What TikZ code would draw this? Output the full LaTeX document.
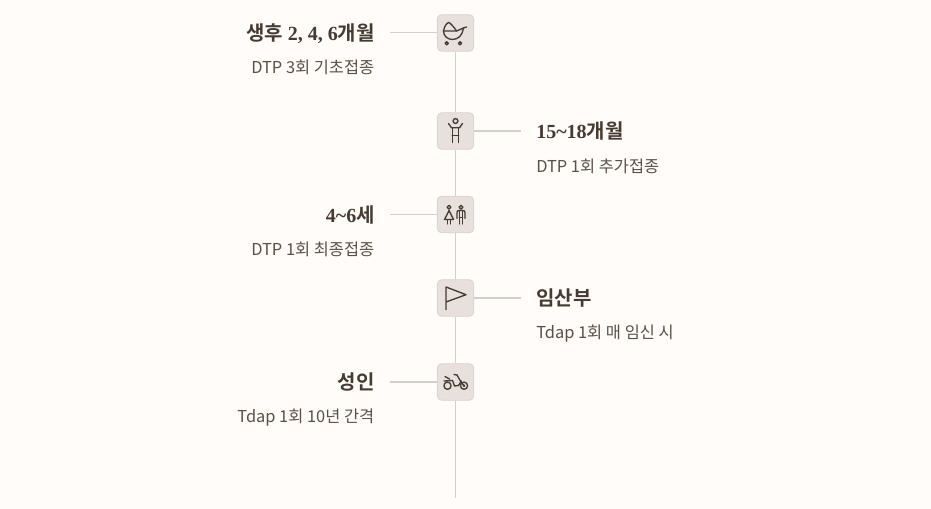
\documentclass[tikz,border=0pt]{standalone}
\usepackage{fontspec}
\usepackage{xcolor}
\usetikzlibrary{positioning}
\setmainfont{Noto Sans CJK KR}
\newfontfamily\titlekr{Noto Sans CJK KR Bold}
\newfontfamily\titlenum{Liberation Serif}[BoldFont={Liberation Serif Bold}]
\newcommand{\num}[1]{{\titlenum\bfseries #1}}
\definecolor{pagebg}{HTML}{FFFCF9}
\definecolor{boxfill}{HTML}{E8E0DD}
\definecolor{boxline}{HTML}{DBD2CD}
\definecolor{linec}{HTML}{D6CEC9}
\definecolor{inkc}{HTML}{463B32}
\definecolor{subc}{HTML}{5A5048}
\tikzset{
  x=0.75pt, y=-0.75pt,
  iconbox/.style={draw=boxline, fill=boxfill, rounded corners=3.5pt, line width=0.6pt,
               minimum size=27.5pt, inner sep=0pt},
  spine/.style={draw=linec, line width=0.75pt},
  branch/.style={draw=linec, line width=1pt},
  title/.style={font=\titlekr\fontsize{15}{18}\selectfont, text=inkc, inner sep=0pt},
  subtitle/.style={font=\fontsize{12.3}{15}\selectfont, text=subc, inner sep=0pt},
  ink/.style={draw=inkc, line width=1pt, line join=round, line cap=round},
  pics/carriage/.style={code={
    \draw[ink] (-12,-2) .. controls (-11,-7) and (-9,-10) .. (-6.5,-10.5) .. controls (-4,-9) and (-1,-5) .. (1,-2);
    \draw[ink] (-12,-2) -- (1,-2) -- (8,-5) -- (11,-6);
    \draw[ink] (-12,-2) .. controls (-12,3) and (-8,6.5) .. (-3,6.5) .. controls (3,6.5) and (7,2) .. (8,-5);
    \draw[ink] (-8.8,10.3) circle (1.6) (4.5,10.3) circle (1.6);
  }},
  pics/walker/.style={code={
    \draw[ink] (0,-10) circle (2.4);
    \draw[ink] (-7,-7.5) -- (-4,-3.2) -- (4,-3.2) -- (7,-7.5);
    \draw[ink] (-3.2,-3.2) -- (-3.2,11.5) (3.2,-3.2) -- (3.2,11.5) (-3.2,4.7) -- (3.2,4.7);
  }},
  pics/children/.style={code={
    \draw[ink] (-6.5,-7.3) circle (1.9) (5.5,-7.3) circle (1.9);
    \draw[ink] (-6.5,-4) -- (-11,5) -- (-2,5) -- cycle;
    \draw[ink] (-8,5) -- (-8,9.5) (-5,5) -- (-5,9.5);
    \draw[ink] (1.5,4) -- (1.5,-2) .. controls (1.5,-3.5) and (2.5,-4) .. (3.5,-4) -- (7.5,-4)
      .. controls (8.5,-4) and (9.5,-3.5) .. (9.5,-2) -- (9.5,4);
    \draw[ink] (3.8,-4) -- (3.8,9.5) (7.2,-4) -- (7.2,9.5) (3.8,3) -- (7.2,3);
  }},
  pics/pennant/.style={code={
    \draw[ink] (-9.5,11.7) -- (-9.5,-11) -- (10.5,-3.3) -- (-9.5,4);
  }},
  pics/scooter/.style={code={
    \draw[ink] (-8,3.7) circle (3.6) (8.5,3.7) circle (3.6);
    \draw[ink] (8.5,3.7) circle (0.7);
    \draw[ink] (-10.5,-5.5) -- (-6,-3) (-11.5,-1) -- (-3,-1.5) -- (-1,4) -- (3,3.5) -- (6,-1);
    \draw[ink] (-1.5,-7.5) -- (1.5,-7) -- (5.5,0) -- (8.5,3.7);
  }},
}
\begin{document}
\begin{tikzpicture}
  \fill[pagebg] (0,0) rectangle (931,509);
  \useasboundingbox (0,0) rectangle (931,509);
  % spine first, the boxes sit on top of it
  \node[iconbox] (carriagebox) at (455.5,33) {};
  \node[iconbox] (walkerbox) at (455.5,131) {};
  \node[iconbox] (childrenbox) at (455.5,214.5) {};
  \node[iconbox] (pennantbox) at (455.5,298) {};
  \node[iconbox] (scooterbox) at (455.5,382) {};
  \coordinate (spineend) at (455.5,498);
  \draw[spine] (carriagebox) -- (walkerbox);
  \draw[spine] (walkerbox) -- (childrenbox);
  \draw[spine] (childrenbox) -- (pennantbox);
  \draw[spine] (pennantbox) -- (scooterbox);
  \draw[spine] (scooterbox) -- (spineend);
  \coordinate (stuba) at (390,33);
  \coordinate (stubb) at (521,131);
  \coordinate (stubc) at (390,214.5);
  \coordinate (stubd) at (521,298);
  \coordinate (stube) at (390,382);
  \draw[spine] (stuba) -- (carriagebox);
  \draw[branch] (walkerbox) -- (stubb);
  \draw[spine] (stubc) -- (childrenbox);
  \draw[branch] (pennantbox) -- (stubd);
  \draw[branch] (stube) -- (scooterbox);
  \pic at (carriagebox) {carriage};
  \pic at (walkerbox) {walker};
  \pic at (childrenbox) {children};
  \pic at (pennantbox) {pennant};
  \pic at (scooterbox) {scooter};
  \node[title, anchor=east] (titlea) at (375,33.5) {생후 \num{2, 4, 6}개월};
  \node[subtitle, anchor=east] (suba) at (374.5,67.5) {DTP 3회 기초접종};
  \node[title, anchor=west] (titleb) at (536,131) {\num{15\symbol{126}18}개월};
  \node[subtitle, anchor=west] (subb) at (536,166) {DTP 1회 추가접종};
  \node[title, anchor=east] (titlec) at (375,215) {\num{4\symbol{126}6}세};
  \node[subtitle, anchor=east] (subc) at (374.5,249.5) {DTP 1회 최종접종};
  \node[title, anchor=west] (titled) at (536,298) {임산부};
  \node[subtitle, anchor=west] (subd) at (536,333.5) {Tdap 1회 매 임신 시};
  \node[title, anchor=east] (titlee) at (375,382) {성인};
  \node[subtitle, anchor=east] (sube) at (374.5,417.5) {Tdap 1회 10년 간격};
\end{tikzpicture}
\end{document}
